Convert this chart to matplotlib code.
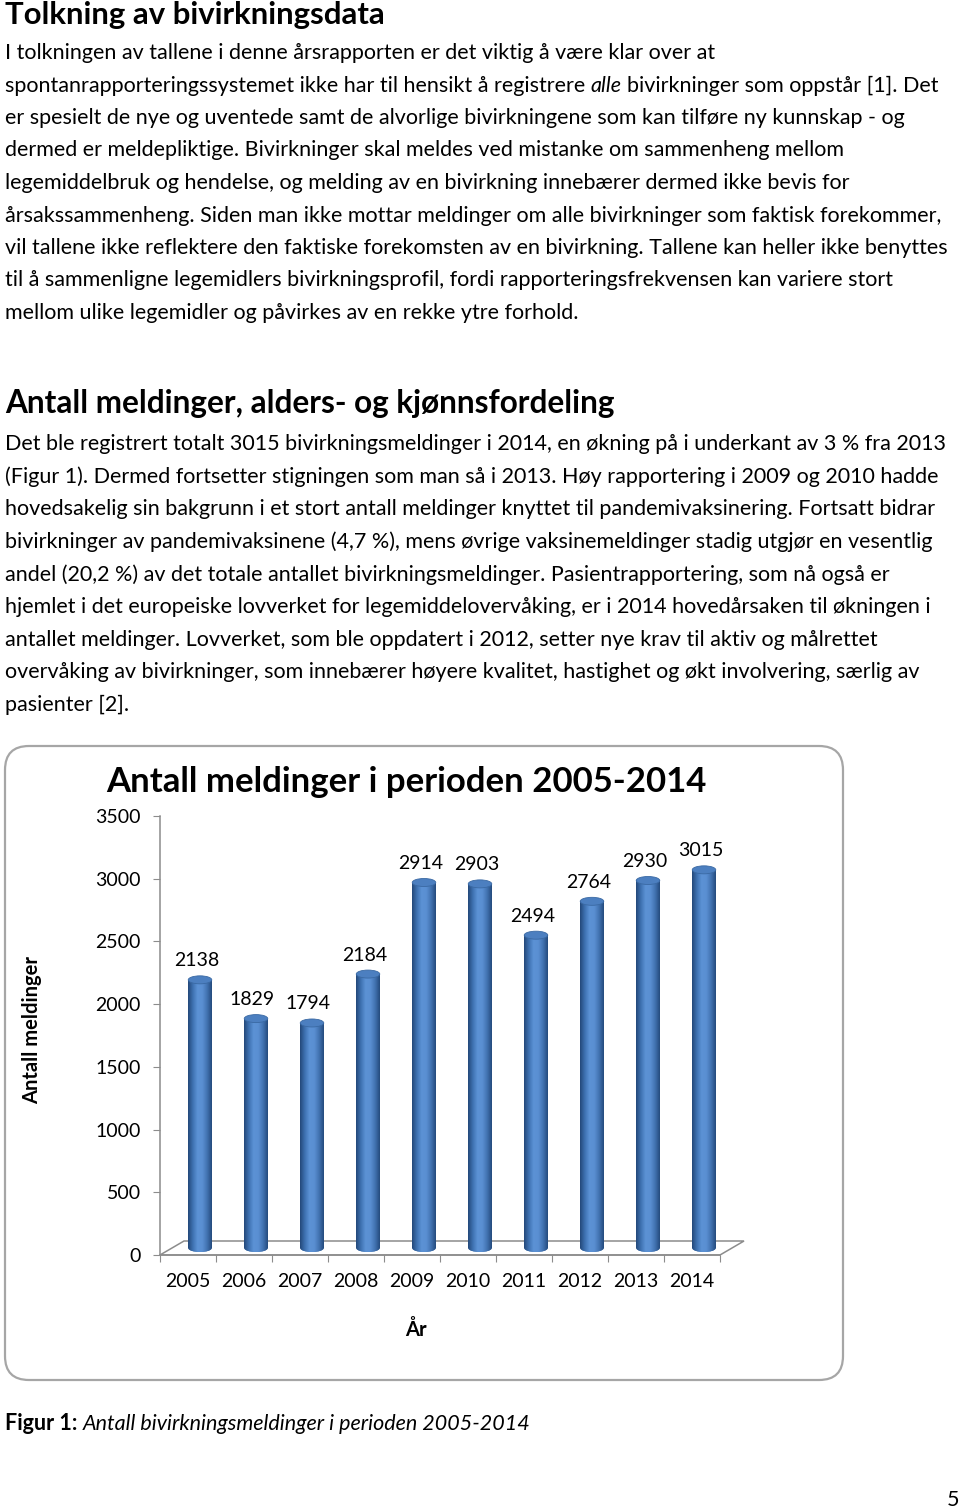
import numpy as np
import matplotlib
matplotlib.use("Agg")
import matplotlib.pyplot as plt
from matplotlib.patches import FancyBboxPatch, Polygon, Ellipse
from matplotlib.colors import LinearSegmentedColormap

plt.rcParams['font.family'] = ['Lato', 'DejaVu Sans']

# data
years = ['2005', '2006', '2007', '2008', '2009', '2010', '2011', '2012', '2013', '2014']
antall = [2138, 1829, 1794, 2184, 2914, 2903, 2494, 2764, 2930, 3015]
yticks = [0, 500, 1000, 1500, 2000, 2500, 3000, 3500]

tittel = 'Tolkning av bivirkningsdata'
avsnitt1 = [
    [('I tolkningen av tallene i denne årsrapporten er det viktig å være klar over at', 'normal', 'normal')],
    [('spontanrapporteringssystemet ikke har til hensikt å registrere', 'normal', 'normal'),
     ('alle', 'normal', 'italic'),
     ('bivirkninger som oppstår [1]. Det', 'normal', 'normal')],
    [('er spesielt de nye og uventede samt de alvorlige bivirkningene som kan tilføre ny kunnskap - og', 'normal', 'normal')],
    [('dermed er meldepliktige. Bivirkninger skal meldes ved mistanke om sammenheng mellom', 'normal', 'normal')],
    [('legemiddelbruk og hendelse, og melding av en bivirkning innebærer dermed ikke bevis for', 'normal', 'normal')],
    [('årsakssammenheng. Siden man ikke mottar meldinger om alle bivirkninger som faktisk forekommer,', 'normal', 'normal')],
    [('vil tallene ikke reflektere den faktiske forekomsten av en bivirkning. Tallene kan heller ikke benyttes', 'normal', 'normal')],
    [('til å sammenligne legemidlers bivirkningsprofil, fordi rapporteringsfrekvensen kan variere stort', 'normal', 'normal')],
    [('mellom ulike legemidler og påvirkes av en rekke ytre forhold.', 'normal', 'normal')],
]
overskrift2 = 'Antall meldinger, alders- og kjønnsfordeling'
avsnitt2 = [
    'Det ble registrert totalt 3015 bivirkningsmeldinger i 2014, en økning på i underkant av 3 % fra 2013',
    '(Figur 1). Dermed fortsetter stigningen som man så i 2013. Høy rapportering i 2009 og 2010 hadde',
    'hovedsakelig sin bakgrunn i et stort antall meldinger knyttet til pandemivaksinering. Fortsatt bidrar',
    'bivirkninger av pandemivaksinene (4,7 %), mens øvrige vaksinemeldinger stadig utgjør en vesentlig',
    'andel (20,2 %) av det totale antallet bivirkningsmeldinger. Pasientrapportering, som nå også er',
    'hjemlet i det europeiske lovverket for legemiddelovervåking, er i 2014 hovedårsaken til økningen i',
    'antallet meldinger. Lovverket, som ble oppdatert i 2012, setter nye krav til aktiv og målrettet',
    'overvåking av bivirkninger, som innebærer høyere kvalitet, hastighet og økt involvering, særlig av',
    'pasienter [2].',
]
diagram_tittel = 'Antall meldinger i perioden 2005-2014'

W, H = 960, 1511
fig = plt.figure(figsize=(9.6, 15.11), dpi=100)
page = fig.add_axes([0, 0, 1, 1])
page.set_xlim(0, W)
page.set_ylim(H, 0)
page.axis('off')
renderer = fig.canvas.get_renderer()


def text_w(s, size, weight='normal', style='normal'):
    t = page.text(0, 0, s, fontsize=size, fontweight=weight, fontstyle=style)
    w = t.get_window_extent(renderer).width
    t.remove()
    return w


def draw_runs(x, y, runs, size):
    gap = text_w('a a', size) - text_w('aa', size)
    for txt, weight, style in runs:
        page.text(x, y, txt, fontsize=size, fontweight=weight, fontstyle=style,
                  ha='left', va='center', color='black')
        x += text_w(txt, size, weight, style) + gap


# font sizes fitted to the widths in the page
line2 = ' '.join(r[0] for r in avsnitt1[1])
body = 10 * 936 / text_w(line2, 10)
h1 = 10 * 380 / text_w(tittel, 10, 'bold')
h2 = 10 * 613 / text_w(overskrift2, 10, 'bold')
ht = 10 * 604 / text_w(diagram_tittel, 10, 'bold')
fs = 14

page.text(5, 15, tittel, fontsize=h1, fontweight='bold', ha='left', va='center')
for i, runs in enumerate(avsnitt1):
    draw_runs(5, 53 + i * 32.5, runs, body)

page.text(5, 404, overskrift2, fontsize=h2, fontweight='bold', ha='left', va='center')
for i, line in enumerate(avsnitt2):
    page.text(5, 444 + i * 32.6, line, fontsize=body, ha='left', va='center')

# chart frame
frame = FancyBboxPatch((5, 746), 838, 634, boxstyle='round,pad=0,rounding_size=24',
                       facecolor='white', edgecolor='#A6A6A6', linewidth=1.6)
page.add_patch(frame)
page.text(406, 782, diagram_tittel, fontsize=ht, fontweight='bold', ha='center', va='center')
page.text(32, 1030, 'Antall meldinger', fontsize=14.5, fontweight='bold', rotation=90,
          ha='center', va='center')
page.text(416, 1330, 'År', fontsize=14.5, fontweight='bold', ha='center', va='center')

draw_runs(5, 1424, [('Figur 1:', 'bold', 'normal'),
                    ('Antall bivirkningsmeldinger i perioden 2005-2014', 'normal', 'italic')], body)
page.text(953, 1500, '5', fontsize=body, ha='center', va='center')

# chart axes
ax = fig.add_axes([160 / W, (H - 1255) / H, 560 / W, 439 / H])
ax.set_xlim(-0.5, 9.5)
ax.set_ylim(0, 3500)
ax.patch.set_alpha(0)
px_y = 3500 / 439
ddx = 24 / 56
ddy = 14 * px_y

floor = Polygon([(-0.5, 0), (9.5, 0), (9.5 + ddx, ddy), (-0.5 + ddx, ddy)], closed=True,
                facecolor='white', edgecolor='#8C8C8C', linewidth=1.1, clip_on=False, zorder=1)
ax.add_patch(floor)

cmap = LinearSegmentedColormap.from_list('syl', ['#24497A', '#3E72B2', '#5C92D5', '#5A8FD2',
                                                 '#4273B2', '#254C7E'])
grad = np.linspace(0, 1, 64).reshape(1, -1)
x = np.arange(len(years))
bw = 0.42
bars = ax.bar(x + ddx / 2, antall, bottom=ddy / 2, width=bw, color='#4F81BD', zorder=3)
eh = 8 * px_y
for xi, b, v in zip(x, bars, antall):
    xc = xi + ddx / 2
    bot = Ellipse((xc, ddy / 2), bw, eh, facecolor='#3E6EA8', edgecolor='none', zorder=2.9,
                  clip_on=False)
    ax.add_patch(bot)
    for clip in (b, bot):
        im = ax.imshow(grad, cmap=cmap, aspect='auto', zorder=3.1,
                       extent=(xc - bw / 2, xc + bw / 2, 0, v + ddy / 2))
        im.set_clip_path(clip)
    top = Ellipse((xc, v + ddy / 2), bw, eh, facecolor='#4C7FC0', edgecolor='#3A69A3',
                  linewidth=0.6, zorder=4, clip_on=False)
    ax.add_patch(top)
    ax.text(xi + 0.15, v + 26 * px_y, str(v), fontsize=fs, ha='center', va='center')

ax.set_xlim(-0.5, 9.5)
ax.set_ylim(0, 3500)
for s in ('top', 'right'):
    ax.spines[s].set_visible(False)
for s in ('left', 'bottom'):
    ax.spines[s].set_color('#8C8C8C')
    ax.spines[s].set_linewidth(1.1)
ax.set_yticks(yticks)
ax.set_yticklabels([str(t) for t in yticks])
ax.tick_params(axis='y', length=5, color='#8C8C8C', labelsize=fs, pad=9)
ax.set_xticks(np.arange(-0.5, 10, 1))
ax.set_xticklabels([])
ax.tick_params(axis='x', which='major', length=5, color='#8C8C8C')
ax.set_xticks(x, minor=True)
ax.set_xticklabels(years, minor=True)
ax.tick_params(axis='x', which='minor', length=0, labelsize=fs, pad=13)

fig.savefig('out.png', dpi=100, facecolor='white')
